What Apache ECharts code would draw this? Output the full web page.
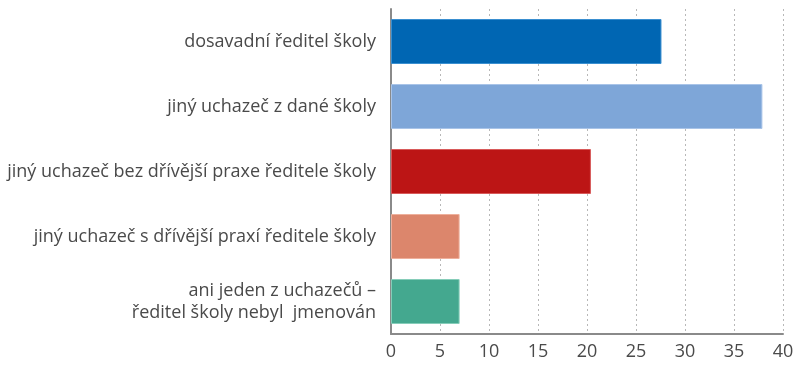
<!DOCTYPE html>
<html><head><meta charset="utf-8">
<script src="https://cdn.jsdelivr.net/npm/echarts@6/dist/echarts.min.js"></script>
<style>html,body{margin:0;padding:0;background:#fff}#c{width:800px;height:366px}</style>
</head><body><div id="c"></div>
<script>
const categories = [
  "dosavadní ředitel školy",
  "jiný uchazeč z dané školy",
  "jiný uchazeč bez dřívější praxe ředitele školy",
  "jiný uchazeč s dřívější praxí ředitele školy",
  "ani jeden z uchazečů –\nředitel školy nebyl  jmenován"
];
const values = [27.6, 37.9, 20.4, 7.0, 7.0];
const colors = ["#0066b3", "#7ea6d8", "#bc1515", "#dc866c", "#44a88f"];
const borderColors = ["#3a8fd0", "#a9c4e8", "#d85a5a", "#eeb09c", "#86cdb9"];
const xTicks = [0, 5, 10, 15, 20, 25, 30, 35, 40];

const chart = echarts.init(document.getElementById('c'), null, {renderer: 'canvas'});
chart.setOption({
  animation: false,
  grid: {left: 391, right: 17, top: 9, height: 325, containLabel: false},
  xAxis: {
    type: 'value', min: 0, max: 40, interval: 5,
    axisLine: {show: true, lineStyle: {color: '#8a8a8a', width: 2}},
    axisTick: {show: false},
    axisLabel: {color: '#4a4a4a', fontSize: 18, fontFamily: 'Open Sans', margin: 9,
      formatter: v => xTicks.includes(v) ? String(v) : ''},
    splitLine: {show: true, lineStyle: {color: '#b8b8b8', type: [2, 3], width: 1}}
  },
  yAxis: {
    type: 'category', data: categories, inverse: true,
    axisLine: {show: true, lineStyle: {color: '#8a8a8a', width: 2}},
    axisTick: {show: false},
    axisLabel: {color: '#4a4a4a', fontSize: 18, fontFamily: 'Open Sans', margin: 15, align: 'right', lineHeight: 22}
  },
  series: [{
    type: 'bar', barWidth: 45,
    data: values.map((v, i) => ({value: v, itemStyle: {color: colors[i], borderColor: borderColors[i], borderWidth: 1}}))
  }]
});
</script></body></html>
